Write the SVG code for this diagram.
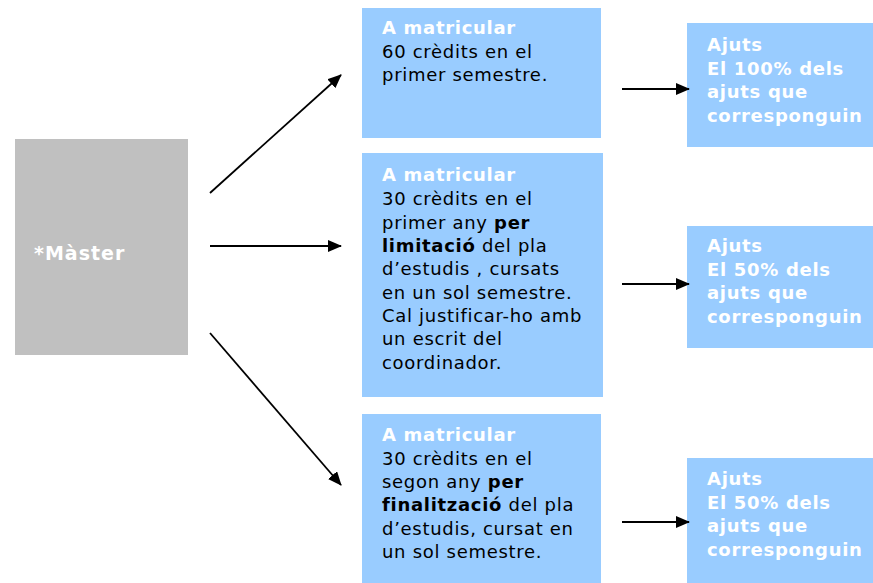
<svg xmlns="http://www.w3.org/2000/svg" width="873" height="583" viewBox="0 0 873 583">
<defs>
<style>
.box{fill:#99ccff}
.master{fill:#c0c0c0}
text{font-family:"DejaVu Sans",Verdana,sans-serif;font-size:18px;letter-spacing:0.7px}
.t{fill:#000}
.w{fill:#fff;font-weight:bold}
.b{font-weight:bold}
.m{font-size:19px;letter-spacing:1px}
.conn line{stroke:#000;stroke-width:1.8}
</style>
<marker id="ah" markerWidth="14" markerHeight="12" refX="13" refY="6" orient="auto" markerUnits="userSpaceOnUse">
<path d="M0,0 L14,6 L0,12 Z" fill="#000"/>
</marker>
</defs>
<rect width="873" height="583" fill="#fff"/>
<g id="master">
<rect class="master" x="15" y="139" width="173" height="216"/>
<text class="w m" x="34" y="260">*Màster</text>
</g>
<g id="opt1">
<rect class="box" x="362" y="8" width="239" height="130"/>
<text class="w" x="382" y="34">A matricular</text>
<text class="t" x="382" y="58">60 crèdits en el</text>
<text class="t" x="382" y="81">primer semestre.</text>
</g>
<g id="opt2">
<rect class="box" x="362" y="153" width="241" height="244"/>
<text class="w" x="382" y="181">A matricular</text>
<text class="t" x="382" y="205">30 crèdits en el</text>
<text class="t" x="382" y="228.5">primer any <tspan class="b">per</tspan></text>
<text class="t" x="382" y="252"><tspan class="b">limitació</tspan> del pla</text>
<text class="t" x="382" y="275">d’estudis , cursats</text>
<text class="t" x="382" y="298.5">en un sol semestre.</text>
<text class="t" x="382" y="322">Cal justificar-ho amb</text>
<text class="t" x="382" y="345">un escrit del</text>
<text class="t" x="382" y="368.5">coordinador.</text>
</g>
<g id="opt3">
<rect class="box" x="362" y="414" width="239" height="169"/>
<text class="w" x="382" y="441">A matricular</text>
<text class="t" x="382" y="464.5">30 crèdits en el</text>
<text class="t" x="382" y="488">segon any <tspan class="b">per</tspan></text>
<text class="t" x="382" y="511"><tspan class="b">finalització</tspan> del pla</text>
<text class="t" x="382" y="534.5">d’estudis, cursat en</text>
<text class="t" x="382" y="558">un sol semestre.</text>
</g>
<g id="ajuts1">
<rect class="box" x="687" y="23" width="186" height="124"/>
<text class="w" x="707" y="51">Ajuts</text>
<text class="w" x="707" y="74.5">El 100% dels</text>
<text class="w" x="707" y="98">ajuts que</text>
<text class="w" x="707" y="121.5">corresponguin</text>
</g>
<g id="ajuts2">
<rect class="box" x="687" y="226" width="186" height="122"/>
<text class="w" x="707" y="252">Ajuts</text>
<text class="w" x="707" y="275.5">El 50% dels</text>
<text class="w" x="707" y="299">ajuts que</text>
<text class="w" x="707" y="322.5">corresponguin</text>
</g>
<g id="ajuts3">
<rect class="box" x="687" y="458" width="186" height="125"/>
<text class="w" x="707" y="485">Ajuts</text>
<text class="w" x="707" y="508.5">El 50% dels</text>
<text class="w" x="707" y="532">ajuts que</text>
<text class="w" x="707" y="555.5">corresponguin</text>
</g>
<g id="connectors" class="conn">
<line x1="210" y1="193" x2="341" y2="75" marker-end="url(#ah)"/>
<line x1="210" y1="246" x2="341" y2="246" marker-end="url(#ah)"/>
<line x1="210" y1="333" x2="341" y2="485" marker-end="url(#ah)"/>
<line x1="622" y1="89" x2="689" y2="89" marker-end="url(#ah)"/>
<line x1="622" y1="284" x2="689" y2="284" marker-end="url(#ah)"/>
<line x1="622" y1="522" x2="689" y2="522" marker-end="url(#ah)"/>
</g>
</svg>
